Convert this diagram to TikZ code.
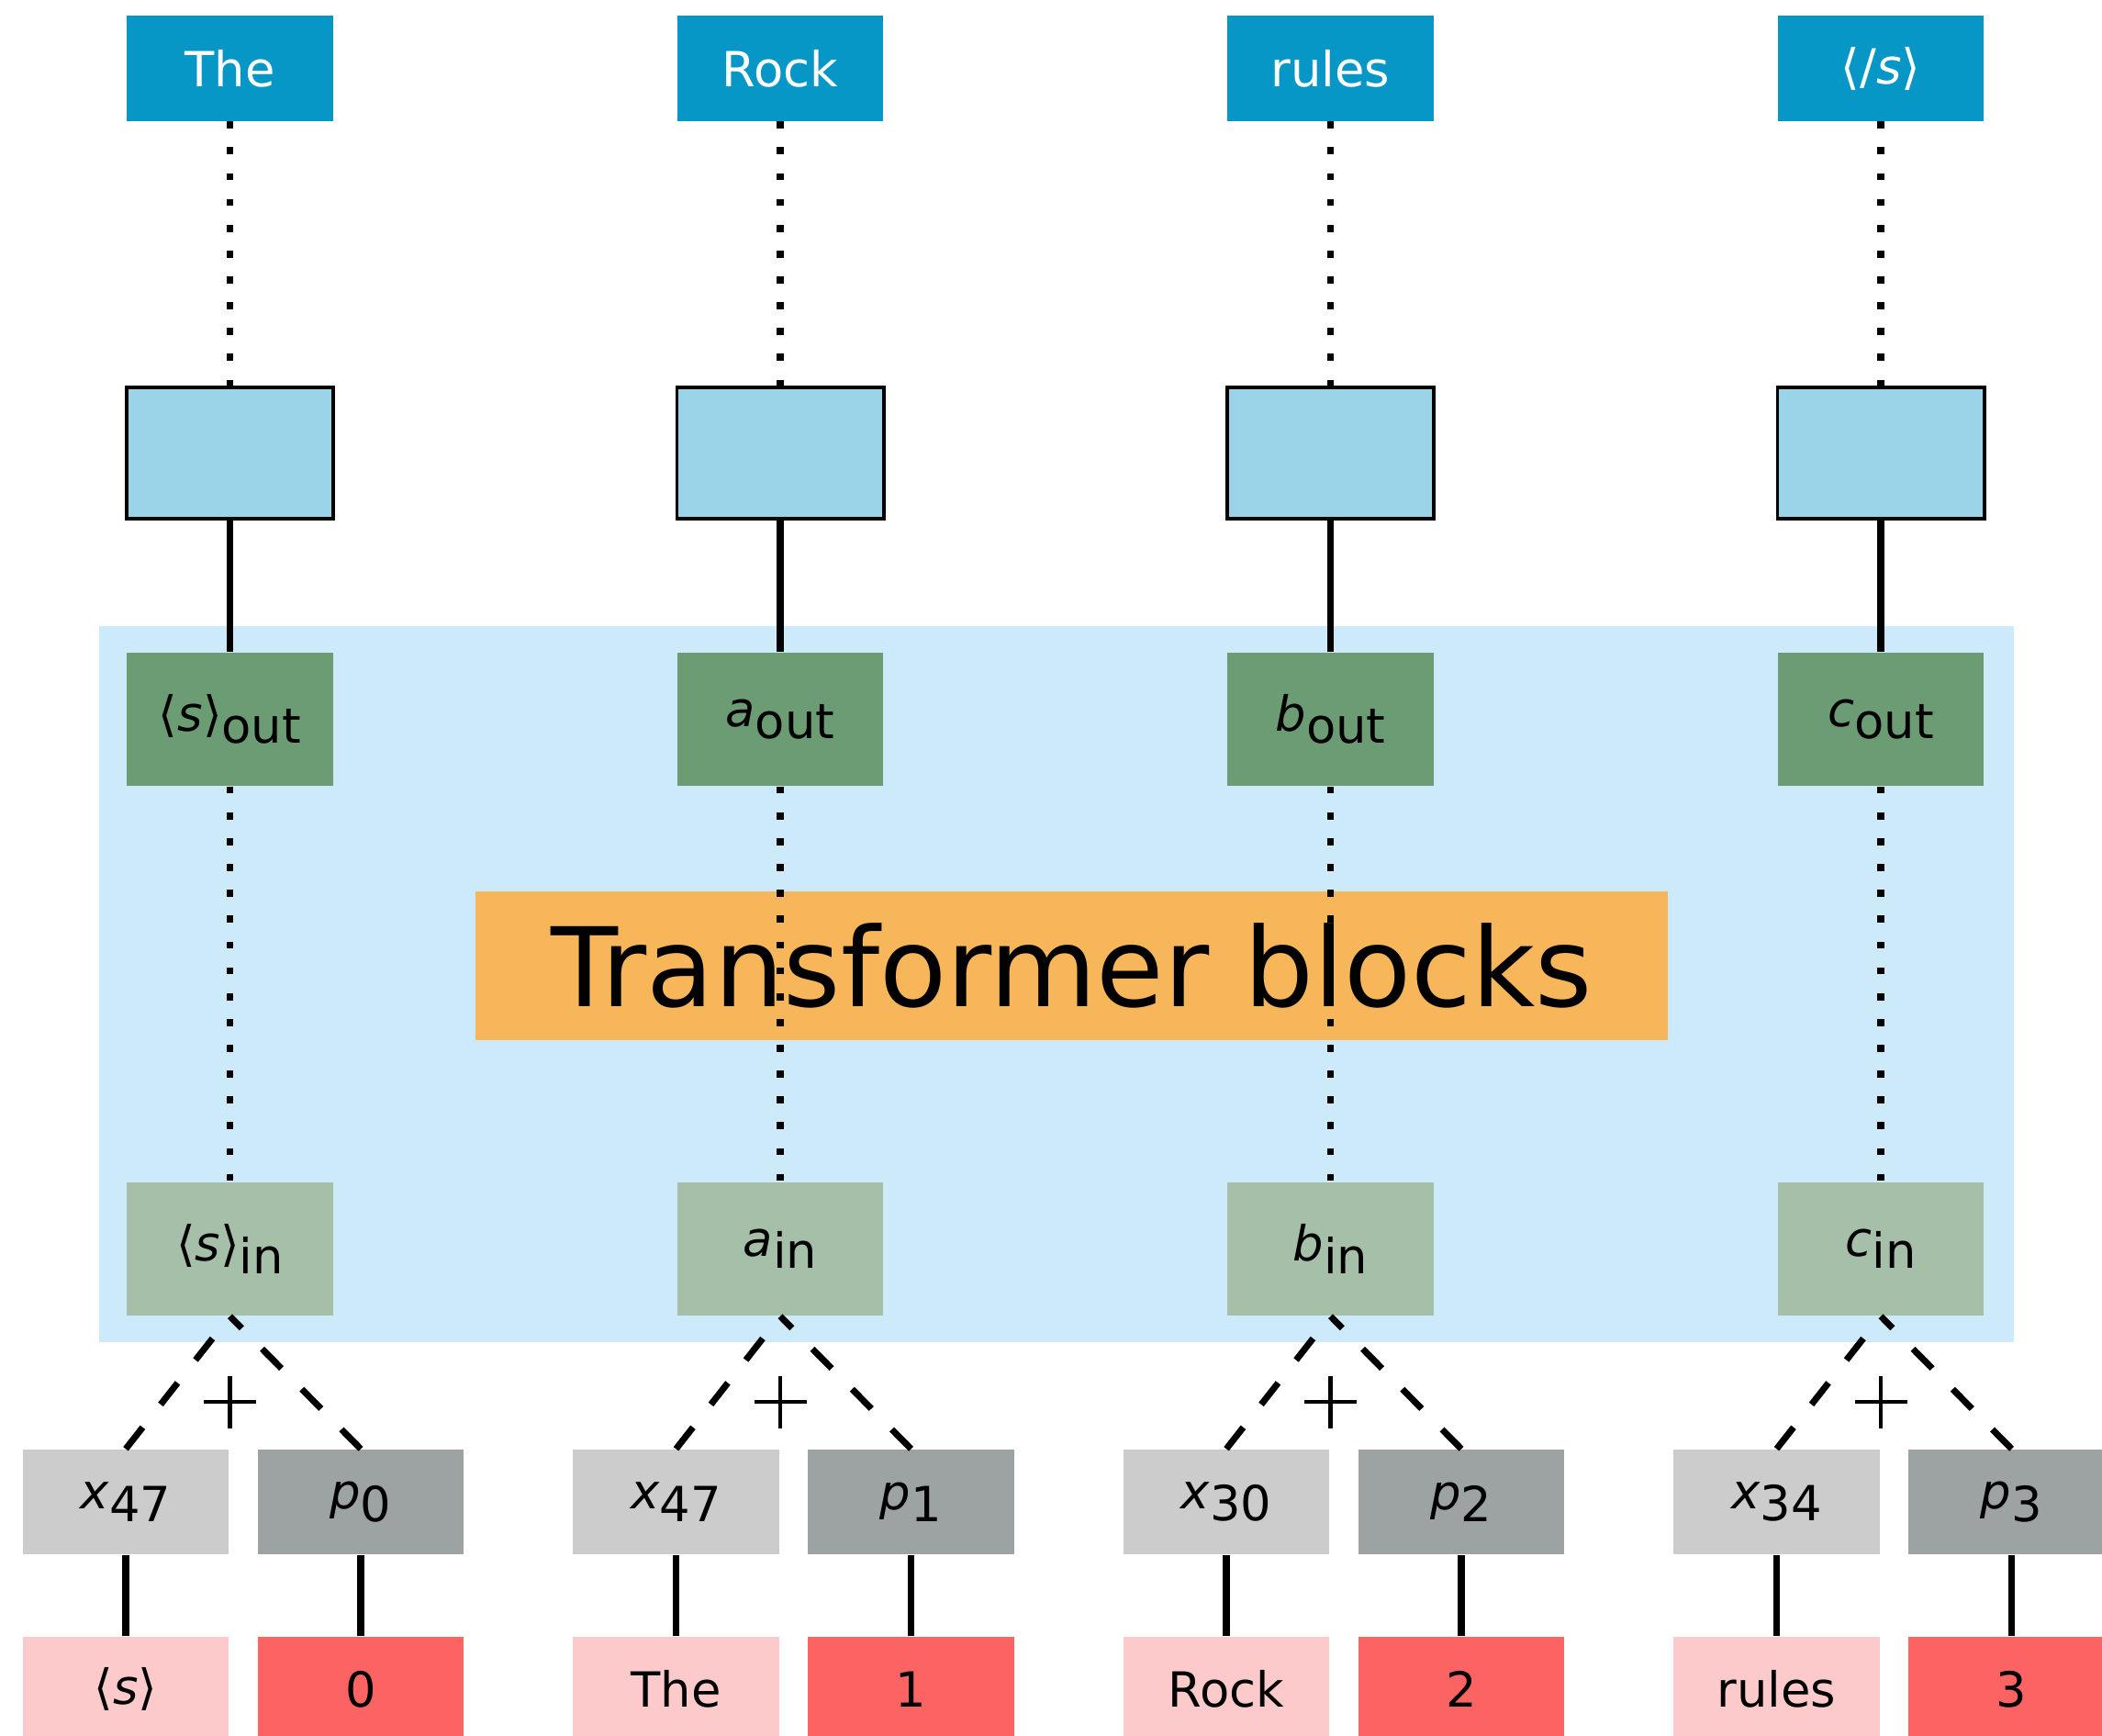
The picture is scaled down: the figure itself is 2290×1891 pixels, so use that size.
\documentclass[tikz,border=0pt]{standalone}
\usepackage{fontspec}
\setmainfont{DejaVu Sans}
\usetikzlibrary{calc}
\definecolor{tokblue}{HTML}{0797C7}
\definecolor{headblue}{HTML}{9BD3E9}
\definecolor{bgblue}{HTML}{CCEAF9}
\definecolor{outgreen}{HTML}{6C9C74}
\definecolor{ingreen}{HTML}{A6BFA8}
\definecolor{orangebox}{HTML}{F8B65A}
\definecolor{xgray}{HTML}{CCCCCC}
\definecolor{pgray}{HTML}{9DA2A2}
\definecolor{tokpink}{HTML}{FCCACB}
\definecolor{posred}{HTML}{FC6464}
\newcommand\lsub[2]{#1\raisebox{-0.25em}{#2}}
\newcommand\svar{\textit{s}}
\newcommand\angs[1]{⟨#1⟩}
\begin{document}
\begin{tikzpicture}[x=0.01cm,y=-0.01cm,
  lbl/.style={font=\fontsize{15}{18}\selectfont, inner sep=0pt, anchor=center},
  topbox/.style={lbl, fill=tokblue, text=white, minimum width=2.24cm, minimum height=1.14cm},
  headbox/.style={lbl, fill=headblue, draw=black, line width=1.1pt, minimum width=2.25cm, minimum height=1.43cm},
  outbox/.style={lbl, fill=outgreen, minimum width=2.24cm, minimum height=1.45cm},
  inbox/.style={lbl, fill=ingreen, minimum width=2.24cm, minimum height=1.45cm},
  xbox/.style={lbl, fill=xgray, minimum width=2.24cm, minimum height=1.14cm},
  pbox/.style={lbl, fill=pgray, minimum width=2.24cm, minimum height=1.14cm},
  tokbox/.style={lbl, fill=tokpink, minimum width=2.24cm, minimum height=1.14cm},
  posbox/.style={lbl, fill=posred, minimum width=2.24cm, minimum height=1.14cm},
  dotline/.style={line width=2.2pt, dash pattern=on 2.2pt off 5.8pt},
  solidline/.style={line width=2.2pt},
  dashline/.style={line width=2pt, dash pattern=on 8.5pt off 9pt},
  plusline/.style={line width=1.3pt}
]
\useasboundingbox (0,0) rectangle (2290,1891);
\fill[bgblue] (108,682) rectangle (2194,1462);
\node[lbl, fill=orangebox, minimum width=12.99cm, minimum height=1.62cm, font=\fontsize{34}{40}\selectfont] (tb) at (1167.5,1052) {Transformer blocks};

\foreach \k/\cx/\ta/\tb/\tc/\td/\te/\tf/\tg in {
  1/250.5/The/{\lsub{\angs{\svar}}{out}}/{\lsub{\angs{\svar}}{in}}/{\lsub{\textit{x}}{47}}/{\lsub{\textit{p}}{0}}/{\angs{\svar}}/0,
  2/850/Rock/{\lsub{\textit{a}}{out}}/{\lsub{\textit{a}}{in}}/{\lsub{\textit{x}}{47}}/{\lsub{\textit{p}}{1}}/The/1,
  3/1449.5/rules/{\lsub{\textit{b}}{out}}/{\lsub{\textit{b}}{in}}/{\lsub{\textit{x}}{30}}/{\lsub{\textit{p}}{2}}/Rock/2,
  4/2049/{\angs{/\svar}}/{\lsub{\textit{c}}{out}}/{\lsub{\textit{c}}{in}}/{\lsub{\textit{x}}{34}}/{\lsub{\textit{p}}{3}}/rules/3} {
  \node[topbox] (top\k) at (\cx,74.5) {\ta};
  \node[headbox] (head\k) at (\cx,493.5) {};
  \node[outbox] (out\k) at (\cx,783.5) {\tb};
  \node[inbox] (in\k) at (\cx,1360.5) {\tc};
  \node[xbox] (x\k) at (\cx-113.5,1636) {\td};
  \node[pbox] (p\k) at (\cx+142.5,1636) {\te};
  \node[tokbox] (tok\k) at (\cx-113.5,1840) {\tf};
  \node[posbox] (pos\k) at (\cx+142.5,1840) {\tg};
  \coordinate (plus\k) at (\cx,1527);
}

\foreach \k in {1,2,3,4} {
  \draw[dotline] (top\k.south) -- (head\k.north);
  \draw[solidline] (head\k.south) -- (out\k.north);
  \draw[dotline] (out\k.south) -- (in\k.north);
  \draw[dashline] (x\k.north) -- (in\k.south);
  \draw[dashline] (p\k.north) -- (in\k.south);
  \draw[solidline] (x\k.south) -- (tok\k.north);
  \draw[solidline] (p\k.south) -- (pos\k.north);
  \draw[plusline] ($(plus\k)+(-28.5,0)$) -- ($(plus\k)+(28.5,0)$);
  \draw[plusline] ($(plus\k)+(0,-28.5)$) -- ($(plus\k)+(0,28.5)$);
}
\end{tikzpicture}
\end{document}
